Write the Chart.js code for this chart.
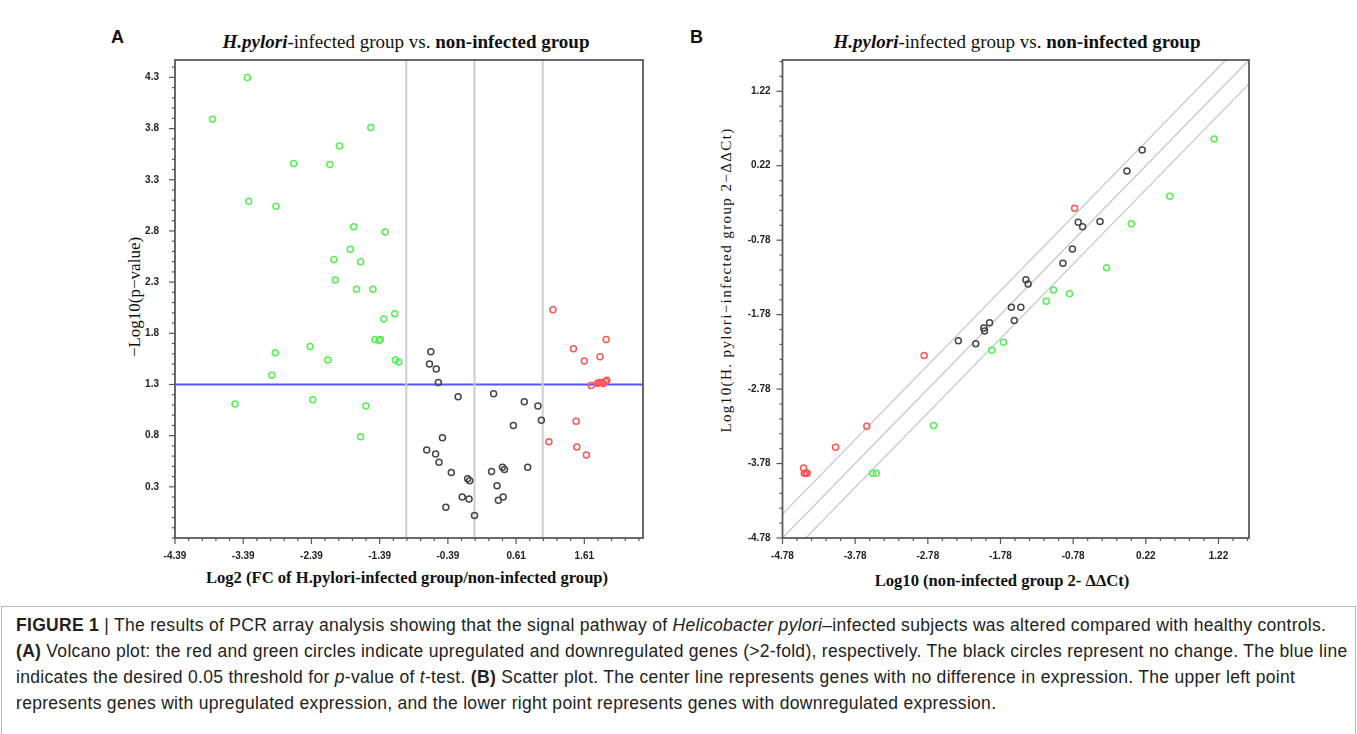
<!DOCTYPE html>
<html>
<head>
<meta charset="utf-8">
<script src="https://cdn.jsdelivr.net/npm/chart.js@4/dist/chart.umd.min.js"></script>
<style>
  body { margin: 0; width: 1357px; height: 734px; background: #fff; position: relative; overflow: hidden; }
  .abs { position: absolute; white-space: nowrap; color: #111; }
  .serif { font-family: "Liberation Serif", "Times New Roman", serif; }
  .panel { font-family: "Liberation Sans", Arial, sans-serif; font-weight: bold; font-size: 18px; }
  .title { font-size: 19px; transform: translate(-50%, -50%); }
  .xt { font-size: 16.6px; font-weight: bold; transform: translate(-50%, -50%); }
  .yt { transform: translate(-50%, -50%) rotate(-90deg); }
  #caption { position: absolute; left: 1px; top: 606px; width: 1353px; height: 140px; border: 1px solid #b8b8b8; }
  .cl { position: absolute; left: 14px; white-space: nowrap; font-family: "Liberation Sans", Arial, sans-serif; font-size: 17.5px; letter-spacing: 0.3px; color: #222; }
</style>
</head>
<body>

<div class="abs panel" style="left:111px; top:27px;">A</div>
<div class="abs panel" style="left:690px; top:27px;">B</div>

<div class="abs serif title" style="left:406px; top:42px;"><b><i>H.pylori</i></b>-infected group vs. <b>non-infected group</b></div>
<div class="abs serif title" style="left:1017px; top:42px;"><b><i>H.pylori</i></b>-infected group vs. <b>non-infected group</b></div>

<div class="abs serif yt" style="left:135px; top:297px; font-size:17px;">−Log10(p−value)</div>
<div class="abs serif yt" style="left:726px; top:280px; font-size:15px; letter-spacing:1.4px;">Log10(H. pylori−infected group 2−ΔΔCt)</div>

<div class="abs serif xt" style="left:407px; top:578px;">Log2 (FC of H.pylori-infected group/non-infected group)</div>
<div class="abs serif xt" style="left:1002px; top:581px;">Log10 (non-infected group 2- ΔΔCt)</div>

<canvas id="volcano" width="570" height="550" style="position:absolute; left:95px; top:50px;"></canvas>
<canvas id="scatter" width="580" height="550" style="position:absolute; left:690px; top:50px;"></canvas>

<div id="caption">
  <div class="cl" style="top:8px;"><b>FIGURE 1</b> | The results of PCR array analysis showing that the signal pathway of <i>Helicobacter pylori</i>–infected subjects was altered compared with healthy controls.</div>
  <div class="cl" style="top:34px;"><b>(A)</b> Volcano plot: the red and green circles indicate upregulated and downregulated genes (&gt;2-fold), respectively. The black circles represent no change. The blue line</div>
  <div class="cl" style="top:60px;">indicates the desired 0.05 threshold for <i>p</i>-value of <i>t</i>-test. <b>(B)</b> Scatter plot. The center line represents genes with no difference in expression. The upper left point</div>
  <div class="cl" style="top:86px;">represents genes with upregulated expression, and the lower right point represents genes with downregulated expression.</div>
</div>

<script>
// Volcano plot (A): log2 fold change vs -log10(p)
const volcanoDownX = [-3.33, -3.84, -1.52, -1.98, -2.65, -2.12, -3.31, -2.91, -1.77, -1.31, -1.82, -2.06, -1.67, -2.04, -1.73, -1.49,
  -1.33, -1.17, -1.46, -1.40, -1.38, -2.92, -2.41, -2.15, -1.16, -1.11, -2.97, -3.51, -2.37, -1.59, -1.67];
const volcanoDownY = [4.30, 3.89, 3.81, 3.63, 3.46, 3.45, 3.09, 3.04, 2.84, 2.79, 2.62, 2.52, 2.50, 2.32, 2.23, 2.23,
  1.94, 1.99, 1.74, 1.73, 1.74, 1.61, 1.67, 1.54, 1.54, 1.52, 1.39, 1.11, 1.15, 1.09, 0.79];
const volcanoNoneX = [-0.64, -0.66, -0.56, -0.53, -0.24, 0.28, 0.73, 0.93, 0.98, 0.57, -0.47, -0.70, -0.57, -0.52,
  -0.34, 0.25, 0.41, 0.44, 0.78, -0.10, -0.07, 0.33, -0.18, -0.08, 0.42, 0.35, -0.42, 0.00];
const volcanoNoneY = [1.62, 1.50, 1.45, 1.32, 1.18, 1.21, 1.13, 1.09, 0.95, 0.90, 0.78, 0.66, 0.62, 0.54,
  0.44, 0.45, 0.49, 0.47, 0.49, 0.38, 0.36, 0.31, 0.20, 0.18, 0.20, 0.17, 0.10, 0.02];
const volcanoUpX = [1.15, 1.93, 1.45, 1.84, 1.61, 1.71, 1.80, 1.83, 1.86, 1.89, 1.92, 1.94, 1.49, 1.09, 1.50, 1.64];
const volcanoUpY = [2.03, 1.74, 1.65, 1.57, 1.53, 1.29, 1.31, 1.32, 1.32, 1.31, 1.33, 1.34, 0.94, 0.74, 0.69, 0.61];
const foldCutoffs = [-1, 0, 1];
const pCutoff = 1.3;
const volcanoXTicks = [-4.39, -3.39, -2.39, -1.39, -0.39, 0.61, 1.61];
const volcanoYTicks = [0.3, 0.8, 1.3, 1.8, 2.3, 2.8, 3.3, 3.8, 4.3];

// Scatter plot (B): log10 2^-ddCt, non-infected vs infected
const scatterNoneX = [0.17, -0.04, -0.41, -0.71, -0.65, -0.79, -0.92, -1.43, -1.40, -1.63, -1.50, -1.59, -1.93, -2.01, -2.00, -2.36, -2.12];
const scatterNoneY = [0.43, 0.15, -0.53, -0.54, -0.60, -0.90, -1.09, -1.31, -1.37, -1.68, -1.68, -1.86, -1.89, -1.96, -2.00, -2.13, -2.17];
const scatterUpX = [-0.76, -2.83, -3.62, -4.05, -4.49, -4.48, -4.46, -4.44];
const scatterUpY = [-0.35, -2.33, -3.28, -3.56, -3.84, -3.91, -3.91, -3.91];
const scatterDownX = [1.16, 0.55, 0.02, -0.32, -1.05, -0.83, -1.15, -1.74, -1.90, -2.70, -3.54, -3.49];
const scatterDownY = [0.58, -0.19, -0.56, -1.15, -1.45, -1.50, -1.60, -2.15, -2.26, -3.27, -3.91, -3.91];
const diagOffsets = [0.32, 0, -0.32];
const scatterTicks = [-4.78, -3.78, -2.78, -1.78, -0.78, 0.22, 1.22];

const GREEN = 'rgb(85,240,85)';
const RED = 'rgb(255,85,85)';
const DARK = 'rgb(70,70,70)';

const pts = (xs, ys) => xs.map((x, i) => ({ x: x, y: ys[i] }));

function stepValues(anchor, step, min, max) {
  const out = [];
  const k0 = Math.ceil((min - anchor) / step - 1e-9);
  const k1 = Math.floor((max - anchor) / step + 1e-9);
  for (let k = k0; k <= k1; k++) out.push(Math.round((anchor + k * step) * 1000) / 1000);
  return out;
}

function axis(o) {
  return {
    type: 'linear', position: o.position, min: o.min, max: o.max,
    border: { display: false },
    grid: { display: true, drawOnChartArea: false, drawTicks: false },
    afterBuildTicks: s => { s.ticks = stepValues(o.labels[0], o.minor, o.min, o.max).map(v => ({ value: v })); },
    afterFit: s => {
      if (o.position === 'left') s.width = o.size; else s.height = o.size;
      // keep label overhang from pushing the plot area around
      s.paddingTop = 0; s.paddingBottom = 0; s.paddingLeft = 0; s.paddingRight = 0;
    },
    ticks: {
      autoSkip: false, maxRotation: 0, padding: o.pad, color: '#222',
      font: { family: 'Liberation Sans', weight: 'bold', size: 10 },
      callback: v => {
        const m = o.labels.find(l => Math.abs(l - v) < 1e-6);
        return m === undefined ? '' : m.toFixed(o.dec);
      }
    }
  };
}

function dots(xs, ys, color) {
  return {
    type: 'scatter', data: pts(xs, ys), order: 1,
    pointRadius: 3, pointHoverRadius: 3, pointBorderWidth: 1.5,
    pointBackgroundColor: 'rgba(0,0,0,0)', pointBorderColor: color
  };
}

function refLine(a, b, color, width) {
  return {
    type: 'line', data: [a, b], order: 5, showLine: true,
    borderColor: color, borderWidth: width, pointRadius: 0, fill: false
  };
}

// frame around the plot area plus major / minor tick marks
const frameTicks = {
  id: 'frameTicks',
  afterDatasetsDraw(chart) {
    const { ctx, chartArea: a, scales } = chart;
    ctx.save();
    ctx.strokeStyle = '#555';
    ctx.lineWidth = 1.2;
    scales.x.ticks.forEach(t => {
      const px = scales.x.getPixelForValue(t.value);
      const len = t.label ? 6 : 3;
      ctx.beginPath(); ctx.moveTo(px, a.bottom); ctx.lineTo(px, a.bottom + len); ctx.stroke();
    });
    scales.y.ticks.forEach(t => {
      const py = scales.y.getPixelForValue(t.value);
      const len = t.label ? 6 : 3;
      ctx.beginPath(); ctx.moveTo(a.left, py); ctx.lineTo(a.left - len, py); ctx.stroke();
    });
    ctx.lineWidth = 1.8;
    ctx.strokeStyle = '#5a5a5a';
    ctx.strokeRect(a.left, a.top, a.right - a.left, a.bottom - a.top);
    ctx.restore();
  }
};

const baseOptions = (xAxis, yAxis, pad) => ({
  responsive: false, animation: false, devicePixelRatio: 1,
  layout: { padding: pad },
  plugins: { legend: { display: false }, tooltip: { enabled: false } },
  scales: { x: xAxis, y: yAxis }
});

// ---- A: volcano ----
const vxMin = -4.39, vxMax = 2.47, vyMin = -0.2, vyMax = 4.47;
const volcanoSets = [];
foldCutoffs.forEach(c => volcanoSets.push(refLine({ x: c, y: vyMin }, { x: c, y: vyMax }, 'rgb(205,205,205)', 2)));
volcanoSets.push(refLine({ x: vxMin, y: pCutoff }, { x: vxMax, y: pCutoff }, 'rgb(85,85,255)', 2));
volcanoSets.push(dots(volcanoDownX, volcanoDownY, GREEN));
volcanoSets.push(dots(volcanoNoneX, volcanoNoneY, DARK));
volcanoSets.push(dots(volcanoUpX, volcanoUpY, RED));

new Chart(document.getElementById('volcano'), {
  type: 'scatter',
  data: { datasets: volcanoSets },
  options: baseOptions(
    axis({ position: 'bottom', min: vxMin, max: vxMax, labels: volcanoXTicks, minor: 0.2, dec: 2, size: 62, pad: 12 }),
    axis({ position: 'left', min: vyMin, max: vyMax, labels: volcanoYTicks, minor: 0.1, dec: 1, size: 80, pad: 16 }),
    { left: 0, top: 10, right: 22, bottom: 0 }
  ),
  plugins: [frameTicks]
});

// ---- B: scatter ----
const sMin = -4.78, sMax = 1.64;
const scatterSets = [];
diagOffsets.forEach(d => scatterSets.push(refLine({ x: sMin - 1, y: sMin - 1 + d }, { x: sMax + 1, y: sMax + 1 + d }, 'rgb(200,200,200)', 1.3)));
scatterSets.push(dots(scatterNoneX, scatterNoneY, DARK));
scatterSets.push(dots(scatterUpX, scatterUpY, RED));
scatterSets.push(dots(scatterDownX, scatterDownY, GREEN));

new Chart(document.getElementById('scatter'), {
  type: 'scatter',
  data: { datasets: scatterSets },
  options: baseOptions(
    axis({ position: 'bottom', min: sMin, max: sMax, labels: scatterTicks, minor: 0.2, dec: 2, size: 62, pad: 12 }),
    axis({ position: 'left', min: sMin, max: sMax, labels: scatterTicks, minor: 0.2, dec: 2, size: 92.5, pad: 12 }),
    { left: 0, top: 10, right: 21, bottom: 0 }
  ),
  plugins: [frameTicks]
});
</script>
</body>
</html>
